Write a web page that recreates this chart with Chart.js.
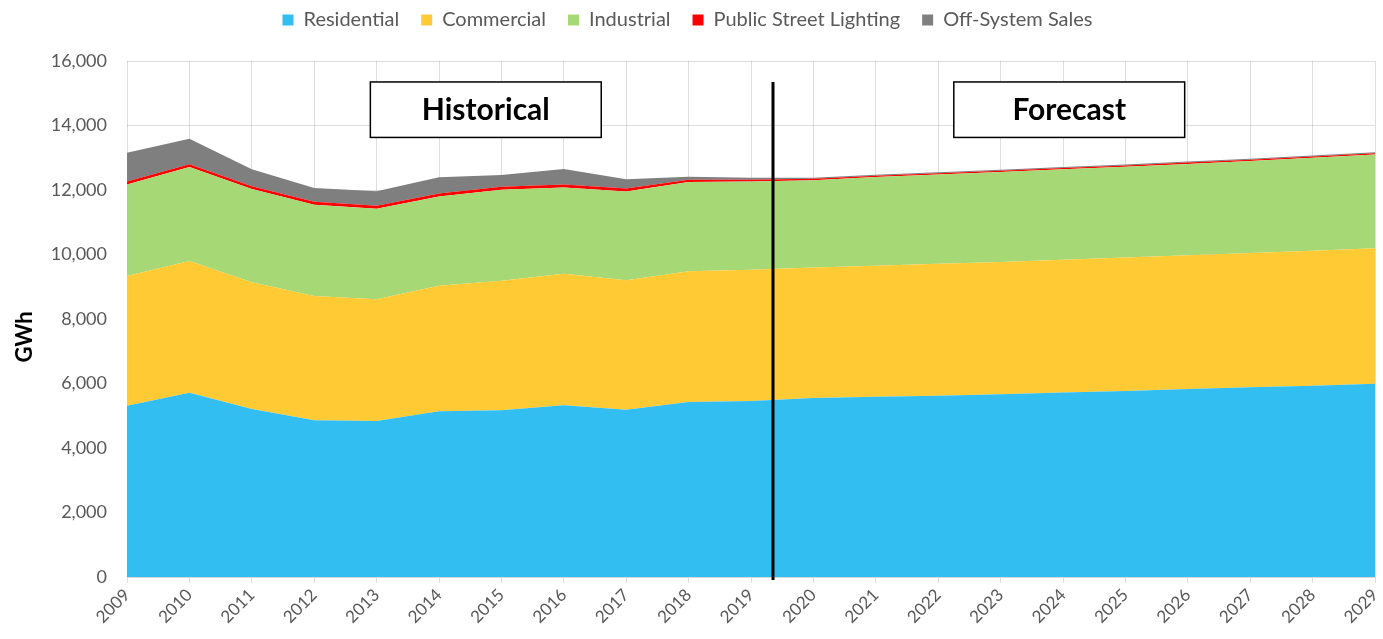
<!DOCTYPE html>
<html>
<head>
<meta charset="utf-8">
<script src="https://cdn.jsdelivr.net/npm/chart.js@4"></script>
<style>
  html, body { margin: 0; padding: 0; background: #fff; }
  #wrap { width: 1383px; height: 639px; }
</style>
</head>
<body>
<div id="wrap"><canvas id="chart" width="1383" height="639"></canvas></div>
<script>
const years = ['2009', '2010', '2011', '2012', '2013', '2014', '2015', '2016', '2017', '2018', '2019',
  '2020', '2021', '2022', '2023', '2024', '2025', '2026', '2027', '2028', '2029'];

const residential = [5310, 5715, 5209, 4858, 4837, 5137, 5168, 5323, 5188, 5426, 5457,
  5550, 5590, 5620, 5670, 5720, 5770, 5830, 5880, 5930, 5990];
const commercial = [4023, 4083, 3928, 3855, 3773, 3896, 4020, 4082, 4012, 4053, 4072,
  4050, 4060, 4090, 4100, 4120, 4140, 4150, 4170, 4190, 4200];
const industrial = [2837, 2912, 2893, 2832, 2810, 2767, 2822, 2675, 2755, 2771, 2731,
  2700, 2750, 2770, 2790, 2800, 2810, 2830, 2850, 2880, 2910];
const streetLighting = [90, 90, 90, 90, 90, 90, 90, 90, 90, 70, 60,
  45, 40, 40, 40, 40, 40, 40, 40, 40, 40];
const offSystemSales = [897, 791, 521, 427, 449, 503, 365, 481, 286, 90, 60,
  35, 30, 30, 30, 30, 30, 30, 30, 30, 30];

const yTicks = [0, 2000, 4000, 6000, 8000, 10000, 12000, 14000, 16000];

// where history ends, in year units, and the two label boxes
const dividerYear = 2019.35;
const periodLabels = [
  { text: 'Historical', from: 2012.9, to: 2016.6 },
  { text: 'Forecast', from: 2022.25, to: 2025.95 },
];

const textGrey = '#595959';
const font = 'Lato, "Open Sans", sans-serif';

const series = [
  { label: 'Residential', data: residential, color: '#33BEF2' },
  { label: 'Commercial', data: commercial, color: '#FFCA33' },
  { label: 'Industrial', data: industrial, color: '#A6D875' },
  { label: 'Public Street Lighting', data: streetLighting, color: '#FF0000' },
  { label: 'Off-System Sales', data: offSystemSales, color: '#7F7F7F' },
];

// leave more room under the legend
const legendSpace = {
  id: 'legendSpace',
  beforeInit(chart) {
    const fit = chart.legend.fit;
    chart.legend.fit = function fitWithSpace() {
      fit.bind(chart.legend)();
      this.height += 21;
    };
  },
};

const annotations = {
  id: 'periodAnnotations',
  afterDatasetsDraw(chart) {
    const { ctx, chartArea, scales: { x, y } } = chart;
    const first = Number(years[0]);
    const toX = (yr) => x.getPixelForValue(yr - first);

    ctx.save();
    const lineX = Math.round(toX(dividerYear));
    ctx.strokeStyle = '#000';
    ctx.lineWidth = 3;
    ctx.beginPath();
    ctx.moveTo(lineX, y.getPixelForValue(15350));
    ctx.lineTo(lineX, y.bottom + 3);
    ctx.stroke();

    const top = y.getPixelForValue(15350);
    const bottom = y.getPixelForValue(13630);
    periodLabels.forEach((p) => {
      const left = toX(p.from);
      const right = toX(p.to);
      ctx.fillStyle = '#fff';
      ctx.fillRect(left, top, right - left, bottom - top);
      ctx.strokeStyle = '#000';
      ctx.lineWidth = 1.5;
      ctx.strokeRect(left, top, right - left, bottom - top);
      ctx.fillStyle = '#000';
      ctx.font = `bold 30px ${font}`;
      ctx.textAlign = 'center';
      ctx.textBaseline = 'middle';
      ctx.fillText(p.text, (left + right) / 2, (top + bottom) / 2 + 1);
    });

    // y axis title, sits a little below the middle like the original
    ctx.translate(25, (chartArea.top + chartArea.bottom) / 2 + 18);
    ctx.rotate(-Math.PI / 2);
    ctx.font = `bold 22px ${font}`;
    ctx.fillText('GWh', 0, 0);
    ctx.restore();
  },
};

new Chart(document.getElementById('chart'), {
  type: 'line',
  data: {
    labels: years,
    datasets: series.map((s, i) => ({
      label: s.label,
      data: s.data,
      backgroundColor: s.color,
      borderColor: s.color,
      borderWidth: 0,
      pointRadius: 0,
      fill: i === 0 ? 'origin' : '-1',
      tension: 0,
    })),
  },
  options: {
    responsive: false,
    animation: false,
    layout: { padding: { left: 0, right: 8, top: -12, bottom: 0 } },
    plugins: {
      tooltip: { enabled: false },
      legend: {
        position: 'top',
        labels: {
          boxWidth: 11,
          boxHeight: 11,
          color: textGrey,
          font: { family: font, size: 20 },
          padding: 22,
        },
      },
    },
    scales: {
      x: {
        z: 1,
        offset: false,
        grid: { color: 'rgba(0,0,0,0.13)', tickLength: 6 },
        border: { color: '#d9d9d9' },
        ticks: {
          color: textGrey,
          font: { family: font, size: 17 },
          minRotation: 45,
          maxRotation: 45,
          autoSkip: false,
          padding: 2,
        },
        afterFit(scale) {
          scale.height = 62;
          scale.paddingRight = 0;
        },
      },
      y: {
        z: 1,
        stacked: true,
        min: 0,
        max: 16000,
        afterBuildTicks(scale) { scale.ticks = yTicks.map((v) => ({ value: v })); },
        grid: { color: 'rgba(0,0,0,0.13)', drawTicks: false },
        border: { display: false },
        ticks: {
          color: textGrey,
          font: { family: font, size: 18 },
          padding: 20,
          callback: (v) => v.toLocaleString('en-US'),
        },
        afterFit(scale) { scale.width = 127; },
      },
    },
  },
  plugins: [annotations, legendSpace],
});
</script>
</body>
</html>
